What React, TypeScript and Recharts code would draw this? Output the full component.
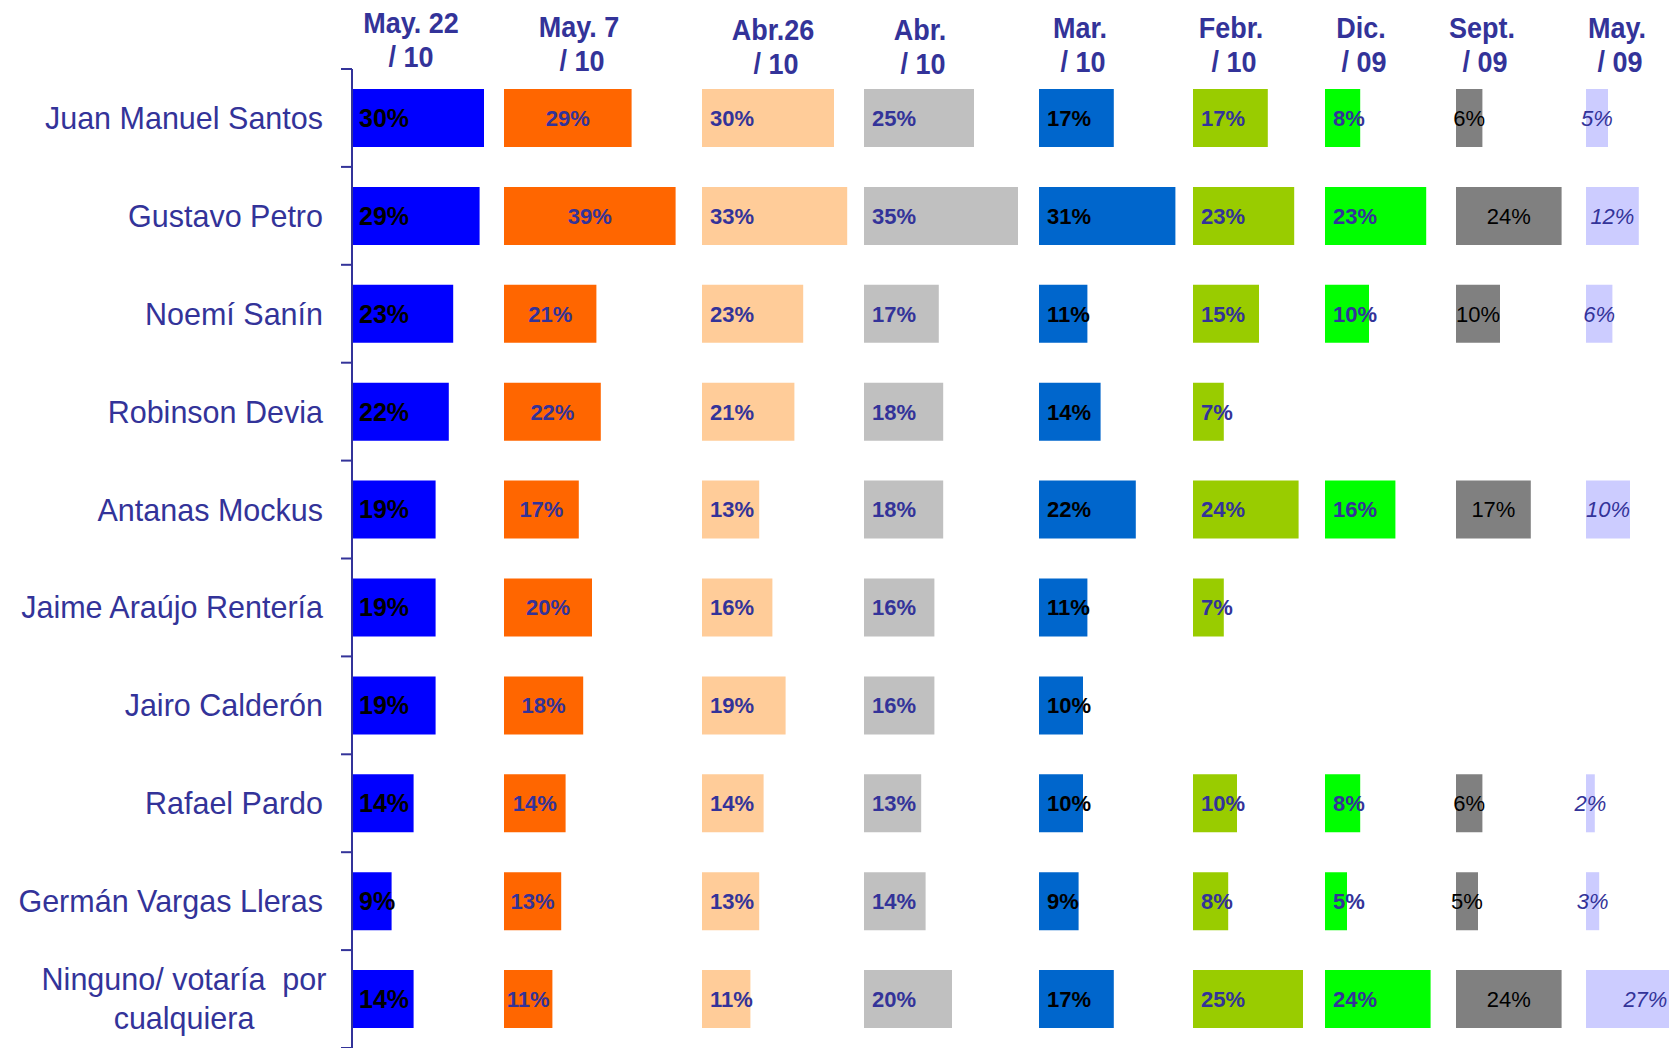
import React from 'react';
import { BarChart, Bar, XAxis, YAxis, LabelList } from 'recharts';

// ---------- DATA ----------
const candidates = [
  'Juan Manuel Santos',
  'Gustavo Petro',
  'Noemí Sanín',
  'Robinson Devia',
  'Antanas Mockus',
  'Jaime Araújo Rentería',
  'Jairo Calderón',
  'Rafael Pardo',
  'Germán Vargas Lleras',
  'Ninguno/ votaría  por\ncualquiera',
];

const may22_10 = [30, 29, 23, 22, 19, 19, 19, 14, 9, 14];
const may7_10 = [29, 39, 21, 22, 17, 20, 18, 14, 13, 11];
const abr26_10 = [30, 33, 23, 21, 13, 16, 19, 14, 13, 11];
const abr_10 = [25, 35, 17, 18, 18, 16, 16, 13, 14, 20];
const mar_10 = [17, 31, 11, 14, 22, 11, 10, 10, 9, 17];
const feb_10 = [17, 23, 15, 7, 24, 7, null, 10, 8, 25];
const dic_09 = [8, 23, 10, null, 16, null, null, 8, 5, 24];
const sep_09 = [6, 24, 10, null, 17, null, null, 6, 5, 24];
const may_09 = [5, 12, 6, null, 10, null, null, 2, 3, 27];

const headerLine1 = ['May. 22', 'May. 7', 'Abr.26', 'Abr.', 'Mar.', 'Febr.', 'Dic.', 'Sept.', 'May.'];
const headerLine2 = ['/ 10', '/ 10', '/ 10', '/ 10', '/ 10', '/ 10', '/ 09', '/ 09', '/ 09'];

// ---------- LAYOUT / STYLE ----------
const W = 1669;
const H = 1048;
const TOP = 69;
const AXIS_X = 352;
const PX_PER_PCT = 4.4;
const TICK_MARGIN = 29;
const NAVY = '#333399';
const FONT = "'Liberation Sans', Arial, Helvetica, sans-serif";

type Col = {
  key: string;
  values: (number | null)[];
  color: string;
  start: number;
  position: 'insideLeft' | 'center';
  offset: number;
  textFill: string;
  fontSize: number;
  fontWeight: number;
  fontStyle: string;
  headX: number;
  headY: number;
};

const columns: Col[] = [
  { key: 'may22_10', values: may22_10, color: '#0000FF', start: 352, position: 'insideLeft', offset: 7, textFill: '#000000', fontSize: 25, fontWeight: 700, fontStyle: 'normal', headX: 411, headY: 33 },
  { key: 'may7_10', values: may7_10, color: '#FF6600', start: 504, position: 'center', offset: 0, textFill: NAVY, fontSize: 22, fontWeight: 700, fontStyle: 'normal', headX: 579, headY: 37 },
  { key: 'abr26_10', values: abr26_10, color: '#FFCC99', start: 702, position: 'insideLeft', offset: 8, textFill: NAVY, fontSize: 22, fontWeight: 700, fontStyle: 'normal', headX: 773, headY: 40 },
  { key: 'abr_10', values: abr_10, color: '#C0C0C0', start: 864, position: 'insideLeft', offset: 8, textFill: NAVY, fontSize: 22, fontWeight: 700, fontStyle: 'normal', headX: 920, headY: 40 },
  { key: 'mar_10', values: mar_10, color: '#0066CC', start: 1039, position: 'insideLeft', offset: 8, textFill: '#000000', fontSize: 22, fontWeight: 700, fontStyle: 'normal', headX: 1080, headY: 38 },
  { key: 'feb_10', values: feb_10, color: '#99CC00', start: 1193, position: 'insideLeft', offset: 8, textFill: NAVY, fontSize: 22, fontWeight: 700, fontStyle: 'normal', headX: 1231, headY: 38 },
  { key: 'dic_09', values: dic_09, color: '#00FF00', start: 1325, position: 'insideLeft', offset: 8, textFill: NAVY, fontSize: 22, fontWeight: 700, fontStyle: 'normal', headX: 1361, headY: 38 },
  { key: 'sep_09', values: sep_09, color: '#808080', start: 1456, position: 'center', offset: 0, textFill: '#000000', fontSize: 22, fontWeight: 400, fontStyle: 'normal', headX: 1482, headY: 38 },
  { key: 'may_09', values: may_09, color: '#CCCCFF', start: 1586, position: 'center', offset: 0, textFill: NAVY, fontSize: 22, fontWeight: 400, fontStyle: 'italic', headX: 1617, headY: 38 },
];

const rows = candidates.map((name, i) => {
  const r: Record<string, any> = { name };
  columns.forEach((c) => {
    r[c.key] = c.values[i];
  });
  return r;
});

const HALF_BAND = (H - TOP) / candidates.length / 2;
const ROW_FONT = 30.5;

const RowTick = (props: any) => {
  const { x, y, payload, index } = props;
  const axisX = x + TICK_MARGIN;
  const lines = String(payload.value).split('\n');
  const isLast = index === candidates.length - 1;
  return (
    <g>
      <line x1={axisX - 11} x2={axisX} y1={y - HALF_BAND} y2={y - HALF_BAND} stroke={NAVY} strokeWidth={2} />
      {isLast && (
        <line x1={axisX - 11} x2={axisX} y1={y + HALF_BAND} y2={y + HALF_BAND} stroke={NAVY} strokeWidth={2} />
      )}
      {lines.length === 1 ? (
        <text x={x} y={y + 11} textAnchor="end" fill={NAVY} fontSize={ROW_FONT} fontFamily={FONT}>
          {lines[0]}
        </text>
      ) : (
        <text x={x - 139} y={y - 20 + 11} textAnchor="middle" fill={NAVY} fontSize={ROW_FONT} fontFamily={FONT} style={{ whiteSpace: 'pre' }}>
          {lines.map((l, k) => (
            <tspan key={k} x={x - 139} dy={k === 0 ? 0 : 39}>
              {l}
            </tspan>
          ))}
        </text>
      )}
    </g>
  );
};

const fmt = (v: any) => (v === null || v === undefined ? '' : `${v}%`);

export default function App() {
  return (
    <div style={{ position: 'absolute', left: 0, top: 0, width: W, height: H, background: '#fff', overflow: 'hidden' }}>
      <BarChart width={W} height={H} layout="vertical" data={rows} margin={{ top: TOP, right: 0, bottom: 0, left: 0 }}>
        <YAxis
          yAxisId="labels"
          type="category"
          dataKey="name"
          width={AXIS_X}
          axisLine={{ stroke: NAVY, strokeWidth: 2 }}
          tickLine={false}
          tickSize={0}
          tickMargin={TICK_MARGIN}
          interval={0}
          tick={<RowTick />}
        />
        {columns.slice(1).map((c, i) => (
          <YAxis key={`y${i + 1}`} yAxisId={`y${i + 1}`} type="category" dataKey="name" hide />
        ))}
        {columns.map((c, i) => (
          <XAxis
            key={`x${i}`}
            xAxisId={`x${i}`}
            type="number"
            hide
            allowDataOverflow
            domain={[-(c.start - AXIS_X) / PX_PER_PCT, (W - c.start) / PX_PER_PCT]}
          />
        ))}
        {columns.map((c, i) => (
          <Bar
            key={c.key}
            dataKey={c.key}
            xAxisId={`x${i}`}
            yAxisId={i === 0 ? 'labels' : `y${i}`}
            fill={c.color}
            barSize={58}
            isAnimationActive={false}
          >
            <LabelList
              dataKey={c.key}
              position={c.position}
              offset={c.offset}
              formatter={fmt}
              fill={c.textFill}
              fontSize={c.fontSize}
              fontWeight={c.fontWeight}
              fontStyle={c.fontStyle}
              fontFamily={FONT}
            />
          </Bar>
        ))}
      </BarChart>
      <svg width={W} height={90} style={{ position: 'absolute', left: 0, top: 0 }}>
        {columns.map((c, i) => (
          <g key={i} fill={NAVY} fontFamily={FONT} fontWeight={700} fontSize={30}>
            <text transform={`translate(${c.headX},${c.headY}) scale(0.9,1)`} textAnchor="middle">
              {headerLine1[i]}
            </text>
            <text transform={`translate(${c.headX + (i === 0 ? 0 : 3)},${c.headY + 34}) scale(0.9,1)`} textAnchor="middle">
              {headerLine2[i]}
            </text>
          </g>
        ))}
      </svg>
    </div>
  );
}
